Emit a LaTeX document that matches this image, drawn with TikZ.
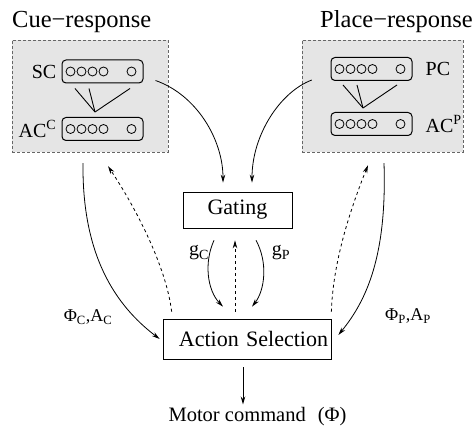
\documentclass[tikz,border=0pt]{standalone}
\usepackage{fontspec}
\setmainfont{Liberation Serif}
\usetikzlibrary{positioning,calc,arrows.meta}
\definecolor{panelgray}{gray}{0.9}
\tikzset{
  panel/.style={draw=gray!80!black, densely dashed, fill=panelgray, inner sep=0pt},
  cellrow/.style={draw, line width=1pt, rounded corners=4pt, minimum width=81pt, minimum height=23pt, inner sep=0pt},
  unitbox/.style={draw, line width=0.7pt, inner sep=0pt, font=\fontsize{22}{26}\selectfont},
  celllabel/.style={inner sep=0pt, font=\fontsize{20}{24}\selectfont},
  flow/.style={line width=0.8pt, -{Stealth[length=8pt,width=4.5pt]}},
  feedback/.style={flow, dashed}
}
\begin{document}
\begin{tikzpicture}[x=1pt,y=1pt,yscale=-1]
\useasboundingbox (0,0) rectangle (474,427);

% the two panels
\node [panel, minimum width=156pt, minimum height=112pt] (cuebg) at (90,96) {};
\node [panel, minimum width=161pt, minimum height=112pt] (placebg) at (382.5,96) {};
\node [anchor=base west, inner sep=0pt, font=\fontsize{24.5}{28}\selectfont] (cuetitle) at (12,28) {Cue−response};
\node [anchor=base east, inner sep=0pt, font=\fontsize{24.5}{28}\selectfont] (placetitle) at (473,28) {Place−response};

\node [cellrow] (sc) at (102.5,71.5) {};
\node [cellrow] (acc) at (102.5,129) {};
\node [cellrow] (pc) at (371.5,69) {};
\node [cellrow] (acp) at (371.5,124) {};

\node [celllabel, left=5pt of sc] (sclabel) {SC};
\node [celllabel, left=5pt of acc] (acclabel) {AC\textsuperscript{C}};
\node [celllabel, right=13pt of pc] (pclabel) {PC};
\node [celllabel, right=13pt of acp] (acplabel) {AC\textsuperscript{P}};

\foreach \b in {sc,acc,pc,acp}
  \foreach \dx in {-32,-21,-10,1,29}
    \draw [line width=0.8pt] ($(\b)+(\dx,0)$) circle [radius=4.5pt];

% converging links
\coordinate (cjoin) at ($(acc.north)+(-7.5,-5)$);
\coordinate (pjoin) at ($(acp.north)+(-8.5,-4)$);
\foreach \dx in {-27.5,-13.5,27.5}
  \draw [line width=0.9pt] ($(sc.south)+(\dx,5)$) -- (cjoin);
\foreach \dx in {-28.5,-14.5,25.5}
  \draw [line width=0.9pt] ($(pc.south)+(\dx,4)$) -- (pjoin);

% central boxes
\node [unitbox, minimum width=109pt, minimum height=36pt] (gate) at (237.5,210) {Gating};
\node [unitbox, minimum height=40pt, text width=162pt, inner xsep=3pt, align=right] (act) at (247,339) {Action Selection};
\node [inner sep=0pt, font=\fontsize{20.5}{24}\selectfont] (motor) at (257.5,417) {Motor command\hspace{12pt}(Φ)};

% panels to gating
\draw [flow] ($(sc.east)+(12,9)$) .. controls (197,95) and (223,140) .. ($(gate.north)+(-14.5,-9)$);
\draw [flow] ($(placebg.west)+(10,-16)$) .. controls (280,92) and (252,135) .. ($(gate.north)+(14.5,-9)$);

% panels to action selection
\draw [flow] ($(cuebg.south)+(-7,11)$) .. controls (82,255) and (115,305) .. ($(act.west)+(-3,0)$);
\draw [flow] ($(placebg.south)+(1.5,11)$) .. controls (387,255) and (367,300) .. ($(act.east)+(7,-4)$);
\draw [feedback] ($(act.north west)+(9,-7)$) .. controls (166,265) and (134,205) .. ($(cuebg.south)+(18,14)$);
\draw [feedback] ($(act.north east)+(0,-7)$) .. controls (333,262) and (350,210) .. ($(placebg.south)+(-14.5,13)$);

% gating and action selection
\draw [flow] ($(gate.south)+(-23.5,12)$) .. controls (204,262) and (207,290) .. ($(act.north)+(-24,-12)$);
\draw [flow] ($(gate.south)+(18.5,12)$) .. controls (268,262) and (265,290) .. ($(act.north)+(5,-12)$);
\draw [feedback] ($(act.north)+(-12,-7)$) -- ($(gate.south)+(-2.5,12)$);
\node [celllabel] (gclabel) at (199,253) {g\textsubscript{C}};
\node [celllabel] (gplabel) at (281,253) {g\textsubscript{P}};

\node [inner sep=0pt, font=\fontsize{18}{22}\selectfont] (cuecost) at (88,317) {Φ\textsubscript{C},A\textsubscript{C}};
\node [inner sep=0pt, font=\fontsize{18}{22}\selectfont] (placecost) at (408,316) {Φ\textsubscript{P},A\textsubscript{P}};

\draw [flow] ($(act.south)+(-4,8)$) -- ($(motor.north)+(-14.5,-3)$);
\end{tikzpicture}
\end{document}
